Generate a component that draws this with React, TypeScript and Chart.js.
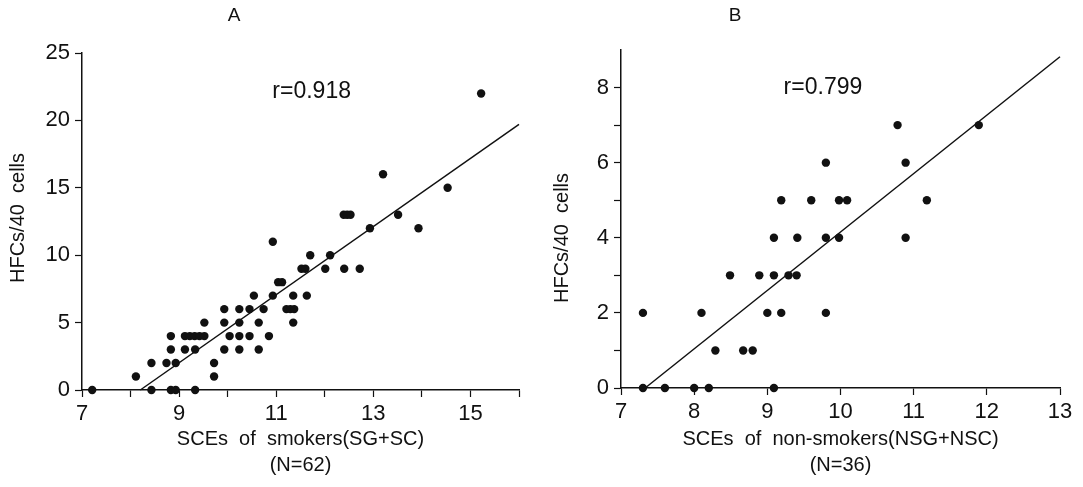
import React, { useEffect, useRef } from 'react';
import { Chart, registerables } from 'chart.js';

Chart.register(...registerables);

const FONT = '"Liberation Sans", Arial, Helvetica, sans-serif';
const INK = '#111';

// Panel A: smokers (SG+SC), N=62
const smokersX = [
  7.21, 8.11, 8.43, 8.43, 8.74, 8.83, 8.83, 8.83, 8.93, 8.93,
  9.12, 9.22, 9.32, 9.42, 9.52, 9.12, 9.33, 9.33, 9.52, 9.72,
  9.72, 9.93, 9.93, 9.93, 10.04, 10.24, 10.24, 10.24, 10.24, 10.45,
  10.45, 10.54, 10.64, 10.64, 10.74, 10.85, 10.93, 10.93, 11.04, 11.12,
  11.21, 11.29, 11.37, 11.35, 11.35, 11.52, 11.6, 11.63, 11.7, 12.01,
  12.11, 12.4, 12.39, 12.46, 12.53, 12.72, 12.93, 13.2, 13.51, 13.93,
  14.53, 15.22,
];
const smokersY = [
  0, 1, 2, 0, 2, 4, 3, 0, 0, 2,
  4, 4, 4, 4, 4, 3, 3, 0, 5, 2,
  1, 6, 5, 3, 4, 6, 5, 4, 3, 6,
  4, 7, 5, 3, 6, 4, 11, 7, 8, 8,
  6, 6, 6, 7, 5, 9, 9, 7, 10, 9,
  10, 9, 13, 13, 13, 9, 12, 16, 13, 12,
  15, 22,
];
const smokersFitX = [8.2, 16];
const smokersFitY = [0, 19.7];
const smokersR = 'r=0.918';
const smokersRAt = [11.73, 22.1];
const smokersXTickLabels = [7, 9, 11, 13, 15];
const smokersYTickLabels = [0, 5, 10, 15, 20, 25];

// Panel B: non-smokers (NSG+NSC), N=36
const nonSmokersX = [
  7.3, 7.3, 7.6, 8.0, 8.1, 8.2, 8.29, 8.49, 8.67, 8.8,
  8.89, 9.0, 9.09, 9.09, 9.09, 9.19, 9.19, 9.29, 9.4, 9.41,
  9.6, 9.8, 9.8, 9.8, 9.98, 9.98, 10.09, 10.78, 10.89, 10.89,
  11.18, 11.89,
];
const nonSmokersY = [
  2, 0, 0, 0, 2, 0, 1, 3, 1, 1,
  3, 2, 0, 4, 3, 5, 2, 3, 3, 4,
  5, 6, 4, 2, 5, 4, 5, 7, 6, 4,
  5, 7,
];
const nonSmokersFitX = [7.33, 13];
const nonSmokersFitY = [0, 8.82];
const nonSmokersR = 'r=0.799';
const nonSmokersRAt = [9.76, 8.0];
const nonSmokersXTickLabels = [7, 8, 9, 10, 11, 12, 13];
const nonSmokersYTickLabels = [0, 2, 4, 6, 8];

type PanelProps = {
  xs: number[];
  ys: number[];
  fitX: number[];
  fitY: number[];
  rText: string;
  rAt: number[];
  xMin: number;
  xMax: number;
  yMax: number;
  yStep: number;
  xLabels: number[];
  yLabels: number[];
  hideYTickAt?: number;
  xTitle: string[];
  yTitle: string;
  yTitlePos: number[];
  pad: { left: number; top: number; right: number };
  yWidth: number;
  xHeight: number;
  width: number;
  height: number;
};

function Panel(p: PanelProps) {
  const ref = useRef<HTMLCanvasElement | null>(null);
  useEffect(() => {
    if (!ref.current) return;
    const textPlugin = {
      id: 'paneltext',
      afterDraw(chart: any) {
        const { ctx, scales } = chart;
        const px = scales.x.getPixelForValue(p.rAt[0]);
        const py = scales.y.getPixelForValue(p.rAt[1]);
        ctx.save();
        ctx.font = `23px ${FONT}`;
        ctx.fillStyle = INK;
        ctx.textAlign = 'center';
        ctx.textBaseline = 'middle';
        ctx.fillText(p.rText, px, py);
        ctx.restore();

        ctx.save();
        ctx.font = `20px ${FONT}`;
        ctx.fillStyle = INK;
        ctx.textAlign = 'center';
        ctx.textBaseline = 'middle';
        ctx.translate(p.yTitlePos[0], p.yTitlePos[1]);
        ctx.rotate(-Math.PI / 2);
        ctx.fillText(p.yTitle, 0, 0);
        ctx.restore();
      },
    };
    const chart = new Chart(ref.current, {
      type: 'scatter',
      data: {
        datasets: [
          {
            data: p.xs.map((x, i) => ({ x, y: p.ys[i] })),
            backgroundColor: INK,
            borderWidth: 0,
            pointRadius: 4.2,
            clip: false,
          } as any,
          {
            type: 'line',
            data: p.fitX.map((x, i) => ({ x, y: p.fitY[i] })),
            borderColor: INK,
            borderWidth: 1.5,
            pointRadius: 0,
            showLine: true,
            fill: false,
            clip: false,
          } as any,
        ],
      },
      options: {
        responsive: false,
        animation: false,
        events: [],
        layout: { padding: { left: p.pad.left, top: p.pad.top, right: p.pad.right, bottom: 0 } },
        plugins: { legend: { display: false }, tooltip: { enabled: false }, title: { display: false } },
        scales: {
          x: {
            type: 'linear',
            min: p.xMin,
            max: p.xMax,
            afterFit: (s: any) => { s.height = p.xHeight; },
            border: { display: true, color: INK, width: 1.5 },
            grid: { display: true, drawOnChartArea: false, drawTicks: true, tickLength: 7, tickWidth: 1.2, tickColor: INK },
            ticks: {
              stepSize: 1,
              autoSkip: false,
              maxRotation: 0,
              padding: 4,
              color: INK,
              font: { family: FONT, size: 22 },
              callback: (v: any) => (p.xLabels.includes(Number(v)) ? String(v) : ''),
            },
            title: {
              display: true,
              text: p.xTitle,
              color: INK,
              font: { family: FONT, size: 20, lineHeight: 1.3 },
              padding: { top: 0, bottom: 9 },
            },
          },
          y: {
            type: 'linear',
            min: 0,
            max: p.yMax,
            afterFit: (s: any) => { s.width = p.yWidth; },
            border: { display: true, color: INK, width: 1.5 },
            grid: {
              display: true,
              drawOnChartArea: false,
              drawTicks: true,
              tickLength: 7,
              tickWidth: 1.2,
              tickColor: (c: any) => (p.hideYTickAt !== undefined && c.tick && c.tick.value === p.hideYTickAt ? 'rgba(0,0,0,0)' : INK),
            },
            ticks: {
              stepSize: p.yStep,
              autoSkip: false,
              padding: 5,
              color: INK,
              font: { family: FONT, size: 22 },
              callback: (v: any) => (p.yLabels.includes(Number(v)) ? String(v) : ''),
            },
            title: { display: false },
          },
        },
      },
      plugins: [textPlugin],
    } as any);
    return () => chart.destroy();
  }, []);
  return <canvas ref={ref} width={p.width} height={p.height} style={{ display: 'block', width: p.width, height: p.height }} />;
}

const titleStyle: React.CSSProperties = {
  position: 'absolute',
  top: 4,
  fontFamily: FONT,
  fontSize: 19,
  color: INK,
  lineHeight: '22px',
  width: 40,
  textAlign: 'center',
};

export default function App() {
  return (
    <div style={{ position: 'absolute', left: 0, top: 0, width: 1083, height: 487, background: '#fff', overflow: 'hidden' }}>
      <div style={{ position: 'absolute', left: 0, top: 0 }}>
        <Panel
          xs={smokersX}
          ys={smokersY}
          fitX={smokersFitX}
          fitY={smokersFitY}
          rText={smokersR}
          rAt={smokersRAt}
          xMin={7}
          xMax={16}
          yMax={25}
          yStep={5}
          xLabels={smokersXTickLabels}
          yLabels={smokersYTickLabels}
          xTitle={['SCEs  of  smokers(SG+SC)', '(N=62)']}
          yTitle="HFCs/40  cells"
          yTitlePos={[18, 218]}
          pad={{ left: 6, top: 53, right: 22 }}
          yWidth={76}
          xHeight={97}
          width={541}
          height={487}
        />
      </div>
      <div style={{ position: 'absolute', left: 541, top: 0 }}>
        <Panel
          xs={nonSmokersX}
          ys={nonSmokersY}
          fitX={nonSmokersFitX}
          fitY={nonSmokersFitY}
          rText={nonSmokersR}
          rAt={nonSmokersRAt}
          xMin={7}
          xMax={13}
          yMax={9}
          yStep={1}
          xLabels={nonSmokersXTickLabels}
          yLabels={nonSmokersYTickLabels}
          hideYTickAt={9}
          xTitle={['SCEs  of  non-smokers(NSG+NSC)', '(N=36)']}
          yTitle="HFCs/40  cells"
          yTitlePos={[21, 238]}
          pad={{ left: 8, top: 50, right: 23 }}
          yWidth={72}
          xHeight={99}
          width={542}
          height={487}
        />
      </div>
      <div style={{ ...titleStyle, left: 234 - 20 }}>A</div>
      <div style={{ ...titleStyle, left: 735 - 20 }}>B</div>
    </div>
  );
}
